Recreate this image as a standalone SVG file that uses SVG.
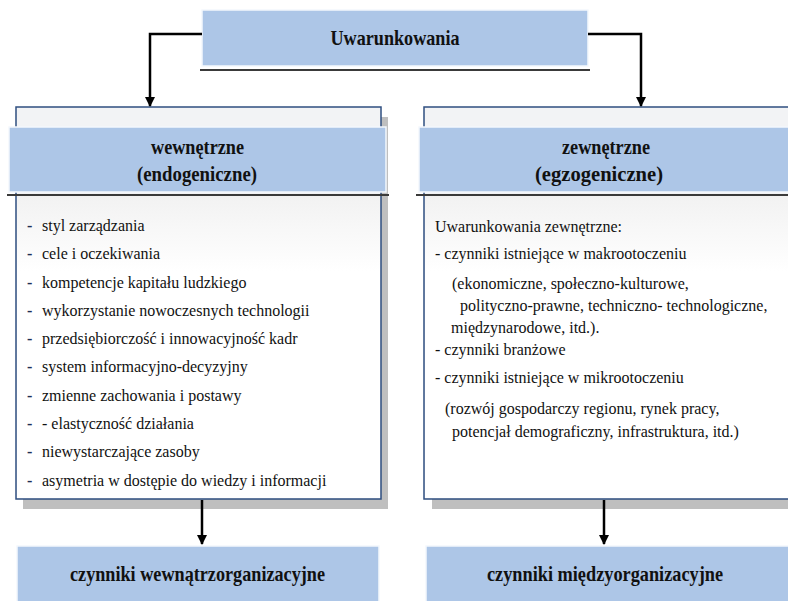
<svg xmlns="http://www.w3.org/2000/svg" width="788" height="601" viewBox="0 0 788 601">
<defs>
<linearGradient id="inner" x1="0" y1="0" x2="0" y2="1">
<stop offset="0" stop-color="#f2f2f2"/>
<stop offset="0.25" stop-color="#ffffff"/>
<stop offset="1" stop-color="#ffffff"/>
</linearGradient>
<marker id="arr" viewBox="0 0 10 10" refX="9" refY="5" markerWidth="4" markerHeight="4" orient="auto" markerUnits="strokeWidth">
<path d="M0,0 L10,5 L0,10 z" fill="#000"/>
</marker>
</defs>
<style>
.band{fill:#adc6e7;stroke:#f4f8fd;stroke-width:1.5}
.shadow{fill:#bfbfbf}
.panel{fill:#f2f3f5;stroke:#2f4f80;stroke-width:1.5}
.inner{fill:url(#inner)}
.rule{stroke:#3a3a3a;stroke-width:2}
.h{font-family:"Liberation Serif","Times New Roman",serif;font-weight:bold;font-size:22px;fill:#111;text-anchor:middle}
.t{font-family:"Liberation Serif","Times New Roman",serif;font-size:16px;fill:#111}
.d{font-family:"Liberation Serif","Times New Roman",serif;font-size:16px;fill:#1f2f55;font-weight:bold}
.conn{fill:none;stroke:#000;stroke-width:2.5;marker-end:url(#arr)}
</style>
<rect width="788" height="601" fill="#fff"/>

<g id="top">
<rect class="band" x="202" y="10" width="386" height="56"/>
<line class="rule" x1="200" y1="70" x2="590" y2="70"/>
<text class="h" x="395" y="45" textLength="129" lengthAdjust="spacingAndGlyphs">Uwarunkowania</text>
</g>

<g id="internal">
<rect class="shadow" x="23" y="117" width="365" height="392"/>
<rect class="panel" x="16" y="107" width="365" height="392"/>
<rect class="inner" x="17" y="196" width="363" height="302"/>
<rect class="band" x="9" y="127" width="377" height="65"/>
<line class="rule" x1="7" y1="195" x2="389" y2="195"/>
<text class="h" x="197.5" y="154" textLength="93" lengthAdjust="spacingAndGlyphs">wewnętrzne</text>
<text class="h" x="197" y="181" textLength="120" lengthAdjust="spacingAndGlyphs">(endogeniczne)</text>
<g>
<text class="d" x="27" y="231">-</text><text class="t" x="42" y="231">styl zarządzania</text>
<text class="d" x="27" y="259">-</text><text class="t" x="42" y="259">cele i oczekiwania</text>
<text class="d" x="27" y="288">-</text><text class="t" x="42" y="288">kompetencje kapitału ludzkiego</text>
<text class="d" x="27" y="316">-</text><text class="t" x="42" y="316">wykorzystanie nowoczesnych technologii</text>
<text class="d" x="27" y="344">-</text><text class="t" x="42" y="344">przedsiębiorczość i innowacyjność kadr</text>
<text class="d" x="27" y="372">-</text><text class="t" x="42" y="372">system informacyjno-decyzyjny</text>
<text class="d" x="27" y="401">-</text><text class="t" x="42" y="401">zmienne zachowania i postawy</text>
<text class="d" x="27" y="429">-</text><text class="t" x="42" y="429">- elastyczność działania</text>
<text class="d" x="27" y="457">-</text><text class="t" x="42" y="457">niewystarczające zasoby</text>
<text class="d" x="27" y="486">-</text><text class="t" x="42" y="486">asymetria w dostępie do wiedzy i informacji</text>
</g>
</g>

<g id="external">
<rect class="shadow" x="432" y="117" width="370" height="392"/>
<rect class="panel" x="424" y="107" width="380" height="392"/>
<rect class="inner" x="425" y="196" width="378" height="302"/>
<rect class="band" x="419" y="127" width="380" height="65"/>
<line class="rule" x1="416" y1="195" x2="788" y2="195"/>
<text class="h" x="606" y="154" textLength="88" lengthAdjust="spacingAndGlyphs">zewnętrzne</text>
<text class="h" x="599" y="181" textLength="128" lengthAdjust="spacingAndGlyphs">(egzogeniczne)</text>
<text class="t" x="435" y="232">Uwarunkowania zewnętrzne:</text>
<text class="t" x="435" y="259">- czynniki istniejące w makrootoczeniu</text>
<text class="t" x="452" y="289">(ekonomiczne, społeczno-kulturowe,</text>
<text class="t" x="460" y="311">polityczno-prawne, techniczno- technologiczne,</text>
<text class="t" x="451" y="333">międzynarodowe, itd.).</text>
<text class="t" x="435" y="355">- czynniki branżowe</text>
<text class="t" x="435" y="383">- czynniki istniejące w mikrootoczeniu</text>
<text class="t" x="445" y="414">(rozwój gospodarczy regionu, rynek pracy,</text>
<text class="t" x="452" y="437">potencjał demograficzny, infrastruktura, itd.)</text>
</g>

<g id="intra">
<rect class="band" x="17" y="546" width="362" height="58"/>
<text class="h" x="197.5" y="581" textLength="255" lengthAdjust="spacingAndGlyphs">czynniki wewnątrzorganizacyjne</text>
</g>

<g id="inter">
<rect class="band" x="426" y="546" width="370" height="58"/>
<text class="h" x="605" y="581" textLength="236" lengthAdjust="spacingAndGlyphs">czynniki międzyorganizacyjne</text>
</g>

<g id="connectors">
<path class="conn" d="M202,34 H150 V106"/>
<path class="conn" d="M588,34 H641 V106"/>
<path class="conn" d="M202,500 V544"/>
<path class="conn" d="M604,500 V544"/>
</g>
</svg>
